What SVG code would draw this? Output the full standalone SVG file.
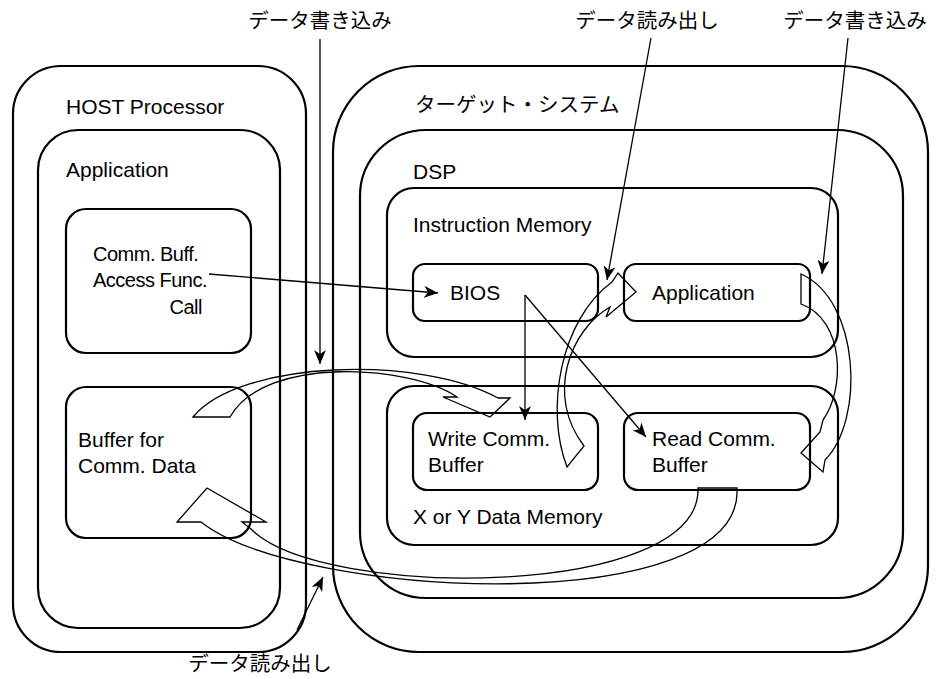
<svg xmlns="http://www.w3.org/2000/svg" width="943" height="679" viewBox="0 0 943 679">
<defs>
<marker id="ah" markerUnits="userSpaceOnUse" markerWidth="16" markerHeight="12" refX="14" refY="6" orient="auto">
<path d="M0,0 L14,6 L0,12 L4,6 Z" fill="#000"/>
</marker>
</defs>
<style>
.box{fill:none;stroke:#000;stroke-width:2.2}
.t{font-family:"Liberation Sans",Arial,sans-serif;font-size:21px;fill:#000}
.s{font-size:20px;letter-spacing:-0.5px}
.j{font-family:"Noto Sans CJK JP","Noto Sans",sans-serif;font-size:20.5px;fill:#000}
.ln{fill:none;stroke:#000;stroke-width:1.3;marker-end:url(#ah)}
.ba{fill:none;stroke:#000;stroke-width:1.3;stroke-linejoin:miter}
</style>
<rect width="943" height="679" fill="#fff"/>
<g id="host">
<rect class="box" x="13" y="66" width="293" height="586" rx="48"/>
<text class="t" x="66" y="114">HOST Processor</text>
</g>
<g id="host-app">
<rect class="box" x="38" y="130" width="242" height="498" rx="40"/>
<text class="t" x="66" y="177">Application</text>
</g>
<g id="comm-func">
<rect class="box" x="66" y="209" width="185" height="144" rx="20"/>
<text class="t s" x="93" y="261">Comm. Buff.</text>
<text class="t s" x="93" y="287">Access Func.</text>
<text class="t s" x="202" y="314" text-anchor="end">Call</text>
</g>
<g id="host-buffer">
<rect class="box" x="66" y="387" width="185" height="151" rx="20"/>
<text class="t" x="78" y="447">Buffer for</text>
<text class="t" x="78" y="473">Comm. Data</text>
</g>
<g id="target">
<rect class="box" x="333" y="66" width="595" height="586" rx="86"/>
<text class="j" x="415" y="112">ターゲット・システム</text>
</g>
<g id="dsp">
<rect class="box" x="360" y="130" width="543" height="468" rx="66"/>
<text class="t" x="413" y="179">DSP</text>
</g>
<g id="imem">
<rect class="box" x="387" y="188" width="451" height="169" rx="27"/>
<text class="t" x="413" y="232">Instruction Memory</text>
</g>
<g id="bios">
<rect class="box" x="413" y="264" width="185" height="57" rx="12"/>
<text class="t" x="450" y="300">BIOS</text>
</g>
<g id="dsp-app">
<rect class="box" x="624" y="264" width="186" height="57" rx="12"/>
<text class="t" x="652" y="300">Application</text>
</g>
<g id="xymem">
<rect class="box" x="387" y="386" width="451" height="159" rx="27"/>
<text class="t" x="413" y="524">X or Y Data Memory</text>
</g>
<g id="write-buf">
<rect class="box" x="413" y="413" width="185" height="77" rx="14"/>
<text class="t" x="428" y="446">Write Comm.</text>
<text class="t" x="428" y="472">Buffer</text>
</g>
<g id="read-buf">
<rect class="box" x="624" y="413" width="186" height="77" rx="14"/>
<text class="t" x="652" y="446">Read Comm.</text>
<text class="t" x="652" y="472">Buffer</text>
</g>
<g id="labels">
<text class="j" x="320" y="28" text-anchor="middle">データ書き込み</text>
<text class="j" x="647" y="28" text-anchor="middle">データ読み出し</text>
<text class="j" x="855" y="28" text-anchor="middle">データ書き込み</text>
<text class="j" x="260" y="671" text-anchor="middle">データ読み出し</text>
</g>
<g id="connectors">
<line class="ln" x1="209" y1="274" x2="438" y2="293"/>
<line class="ln" x1="525" y1="295" x2="525" y2="420"/>
<line class="ln" x1="525" y1="295" x2="646" y2="437"/>
<line class="ln" x1="320" y1="39" x2="320" y2="364"/>
<line class="ln" x1="651" y1="38" x2="607" y2="280"/>
<line class="ln" x1="848" y1="38" x2="822" y2="274"/>
<line class="ln" x1="297" y1="630" x2="323" y2="577"/>
<path class="ba" d="M193,417 C240,360 420,355 498,398 L510,398 L490,417 L443,397 L457,397 C410,365 265,355 230,417 Z"/>
<path class="ba" d="M737,488 C745,620 300,600 201,522 L177,522 L207,488 L266,522 L242,522 L251,529 C320,600 702,600 698,488 Z"/>
<path class="ba" d="M801,274 C860,300 865,420 825,460 L823,472 L801,453 L820,432 L823,420 C845,390 845,320 801,304 Z"/>
<path class="ba" d="M567,467 C545,410 560,320 612,282 L618,273 L636,292 L606,317 L610,307 C570,330 545,395 584,446 Z"/>
</g>
</svg>
